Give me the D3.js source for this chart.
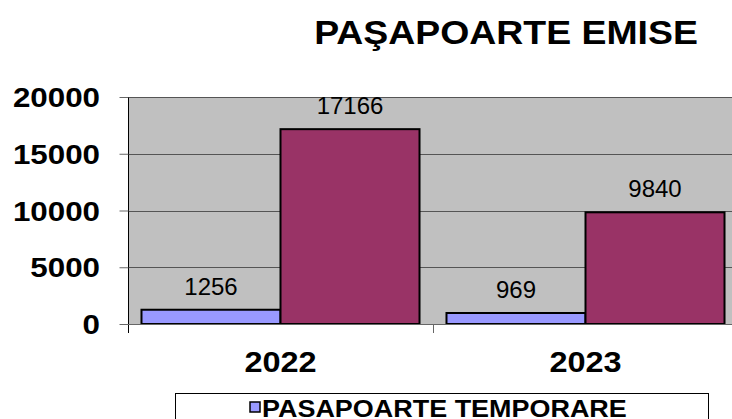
<!DOCTYPE html>
<html>
<head>
<meta charset="utf-8">
<script src="https://cdn.jsdelivr.net/npm/d3@7"></script>
<style>
  html, body { margin: 0; padding: 0; background: #fff; }
  svg { display: block; font-family: Arial, "Liberation Sans", sans-serif; }
</style>
</head>
<body>
<svg id="chart" width="732" height="419"></svg>
<script>
// ---- data ----
const title = "PAŞAPOARTE EMISE";
const categories = ["2022", "2023"];
const seriesNames = ["PASAPOARTE TEMPORARE", "PASAPOARTE"];
const temporare = [1256, 969];
const pasapoarte = [17166, 9840];
const yTicks = [0, 5000, 10000, 15000, 20000];
const colors = ["#9999FF", "#993366"];

const svg = d3.select("#chart");
const SX = 1.1; // horizontal stretch of the original rendering

const plot = { left: 128, right: 738, top: 97, bottom: 324 };

const x0 = d3.scaleBand().domain(categories).range([plot.left, plot.right]).paddingInner(0).paddingOuter(0);
const inner = d3.scaleBand().domain([0, 1]).range([0, x0.bandwidth()]).paddingInner(0).paddingOuter(0.097);
const y = d3.scaleLinear().domain([0, 20000]).range([plot.bottom, plot.top]);

function stretchedText(g, x, yy, txt, size, weight, anchor) {
  return g.append("text")
    .attr("transform", `translate(${x},${yy}) scale(${SX},1)`)
    .attr("text-anchor", anchor)
    .attr("font-size", size)
    .attr("font-weight", weight)
    .attr("fill", "#000")
    .text(txt);
}

// plot background
svg.append("rect")
  .attr("x", plot.left).attr("y", plot.top)
  .attr("width", plot.right - plot.left).attr("height", plot.bottom - plot.top)
  .attr("fill", "#C0C0C0");

// gridlines
svg.append("g").selectAll("line").data(yTicks.filter(d => d > 0)).join("line")
  .attr("x1", plot.left).attr("x2", plot.right)
  .attr("y1", d => Math.round(y(d)) + 0.5).attr("y2", d => Math.round(y(d)) + 0.5)
  .attr("stroke", "#555").attr("stroke-width", 1);

// bars
const series = [temporare, pasapoarte];
const gb = svg.append("g");
series.forEach((vals, si) => {
  gb.selectAll(null).data(vals).join("rect")
    .attr("x", (d, i) => x0(categories[i]) + inner(si))
    .attr("y", d => y(d))
    .attr("width", inner.bandwidth())
    .attr("height", d => y(0) - y(d))
    .attr("fill", colors[si])
    .attr("stroke", "#000").attr("stroke-width", 2);
});

// value labels
series.forEach((vals, si) => {
  vals.forEach((v, i) => {
    svg.append("text")
      .attr("x", x0(categories[i]) + inner(si) + inner.bandwidth() / 2)
      .attr("y", y(v) - 15)
      .attr("text-anchor", "middle")
      .attr("font-size", 24)
      .attr("fill", "#000")
      .text(v);
  });
});

// y axis
const yAxis = d3.axisLeft(y).tickValues(yTicks).tickSize(9).tickFormat("");
const gy = svg.append("g").attr("transform", `translate(${plot.left + 0.5},0)`).call(yAxis);
gy.select(".domain").attr("stroke", "#000").attr("d", `M0,${plot.top}V${plot.bottom + 9}`);
gy.selectAll(".tick line").attr("stroke", "#666");
yTicks.forEach(t => {
  stretchedText(svg, 100, y(t) + 10, String(t), 28.5, "bold", "end");
});

// x axis
svg.append("line")
  .attr("x1", plot.left).attr("x2", plot.right)
  .attr("y1", plot.bottom + 0.5).attr("y2", plot.bottom + 0.5)
  .attr("stroke", "#666");
const xTickPos = categories.map(c => x0(c)).concat([plot.right]);
svg.append("g").selectAll("line").data(xTickPos.slice(1)).join("line")
  .attr("x1", d => Math.round(d) + 0.5).attr("x2", d => Math.round(d) + 0.5)
  .attr("y1", plot.bottom).attr("y2", plot.bottom + 9)
  .attr("stroke", "#666");
categories.forEach(c => {
  stretchedText(svg, x0(c) + x0.bandwidth() / 2, 372, c, 29.5, "bold", "middle");
});

// title
stretchedText(svg, 506, 44, title, 34, "bold", "middle");

// legend
svg.append("rect")
  .attr("x", 175.5).attr("y", 393.5).attr("width", 533).attr("height", 40)
  .attr("fill", "#fff").attr("stroke", "#000").attr("stroke-width", 1);
svg.append("rect")
  .attr("x", 250).attr("y", 402).attr("width", 10).attr("height", 10)
  .attr("fill", colors[0]).attr("stroke", "#000").attr("stroke-width", 1.5);
stretchedText(svg, 262, 417, seriesNames[0], 24.5, "bold", "start");
</script>
</body>
</html>
